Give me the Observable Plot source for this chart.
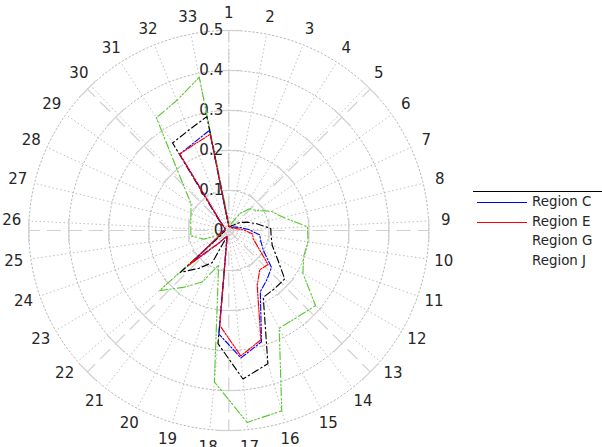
<!DOCTYPE html>
<html><head><meta charset="utf-8">
<script src="https://cdn.jsdelivr.net/npm/d3@7"></script>
<script src="https://cdn.jsdelivr.net/npm/@observablehq/plot@0.6"></script>
<style>
body{margin:0;background:#fff;font-family:"DejaVu Sans",sans-serif;}
#wrap{position:relative;width:602px;height:447px;overflow:hidden;}
#legend{position:absolute;left:0;top:0;width:602px;height:447px;pointer-events:none;}
.lg-border{position:absolute;left:473px;top:191px;width:129px;height:0;border-top:1.3px solid #000;}
.lg-line{position:absolute;left:477px;width:50px;height:0;border-top:1.5px solid;}
.lg-text{position:absolute;left:532px;font-size:13.4px;color:#262626;line-height:16px;white-space:nowrap;}
</style></head><body><div id="wrap"></div>
<script>
// ---- data ----
const directionLabels = ["1","2","3","4","5","6","7","8","9","10","11","12","13","14","15","16","17","18","19","20","21","22","23","24","25","26","27","28","29","30","31","32","33"];
const radialTicks = [0, 0.1, 0.2, 0.3, 0.4, 0.5];
const seriesNames = ["Region C", "Region E", "Region G", "Region J"];
const regionC = [0.01,0.01,0.01,0.01,0.01,0.015,0.02,0.03,0.05,0.078,0.085,0.10,0.141,0.155,0.172,0.29,0.32,0.26,0.015,0.02,0.04,0.12,0.03,0.02,0.015,0.01,0.01,0.01,0.015,0.03,0.227,0.236,0.255];
const regionE = [0.01,0.01,0.01,0.01,0.01,0.01,0.015,0.02,0.037,0.06,0.065,0.085,0.13,0.125,0.155,0.285,0.315,0.238,0.015,0.02,0.04,0.135,0.03,0.02,0.015,0.01,0.01,0.01,0.015,0.03,0.227,0.232,0.245];
const regionG = [0.02,0.01,0.02,0.05,0.075,0.086,0.116,0.14,0.197,0.2,0.198,0.214,0.287,0.276,0.275,0.47,0.482,0.38,0.09,0.145,0.18,0.23,0.02,0.066,0.096,0.095,0.098,0.104,0.116,0.17,0.335,0.35,0.39];
const regionJ = [0.01,0.01,0.01,0.015,0.02,0.035,0.05,0.072,0.105,0.107,0.115,0.14,0.185,0.185,0.188,0.347,0.373,0.284,0.015,0.09,0.12,0.16,0.02,0.015,0.01,0.01,0.01,0.01,0.015,0.035,0.26,0.27,0.29];
const seriesColors = ["#0000ff", "#ff0000", "#5ac834", "#000000"];
const seriesDash = ["1.5,2,6,2", "1.5,1.5,1.5,1.5,6,1.5", "1.5,2,1.5,2,8,3", "7,3,1.5,3"];

// ---- geometry helpers ----
const N = directionLabels.length;
const ang = i => i * 2 * Math.PI / N;          // clockwise from top
const px = (r, a) => r * Math.sin(a);
const py = (r, a) => r * Math.cos(a);
const rMax = radialTicks[radialTicks.length - 1];

const cx = 228.3, cy = 230, scalePx = 400; // layout: centre and pixels per unit
const W = 602, H = 447;

const rings = radialTicks.slice(1).flatMap(r => d3.range(0, 361, 2).map(d => ({r, x: px(r, d * Math.PI / 180), y: py(r, d * Math.PI / 180)})));
const spokes = directionLabels.map((l, i) => ({a: ang(i)}));
const bigAngles = d3.range(0, 360, 45).map(d => d * Math.PI / 180);
const crossTicks = bigAngles.flatMap(a => radialTicks.slice(1).map(r => {
  const h = 0.03;
  return {x1: px(r, a) + h * Math.cos(a), y1: py(r, a) - h * Math.sin(a),
          x2: px(r, a) - h * Math.cos(a), y2: py(r, a) + h * Math.sin(a)};
}));

const allSeries = [regionC, regionE, regionG, regionJ];
function rowsFor(vals, name) {
  return d3.range(N + 1).map(k => {
    const i = k % N;
    return {name, x: px(vals[i], ang(i)), y: py(vals[i], ang(i))};
  });
}
const drawOrder = [2, 3, 0, 1];

const chart = Plot.plot({
  width: W, height: H,
  marginTop: 0, marginRight: 0, marginBottom: 0, marginLeft: 0,
  x: {domain: [-cx / scalePx, (W - cx) / scalePx], axis: null},
  y: {domain: [-(H - cy) / scalePx, cy / scalePx], axis: null},
  style: {fontFamily: "DejaVu Sans", background: "#fff"},
  marks: [
    Plot.line(rings, {x: "x", y: "y", z: "r", stroke: "#b8b8b8", strokeWidth: 1, strokeDasharray: "1.5,2.5"}),
    Plot.link(spokes, {x1: 0, y1: 0, x2: d => px(rMax, d.a), y2: d => py(rMax, d.a), stroke: "#c0c0c0", strokeWidth: 1, strokeDasharray: "1.5,2.5"}),
    Plot.link(bigAngles, {x1: 0, y1: 0, x2: a => px(rMax, a), y2: a => py(rMax, a), stroke: "#d0d0d0", strokeWidth: 1.2, strokeDasharray: "14,7"}),
    Plot.link(crossTicks, {x1: "x1", y1: "y1", x2: "x2", y2: "y2", stroke: "#d0d0d0", strokeWidth: 1.2}),
    Plot.text(directionLabels, {x: (d, i) => px(0.543, ang(i)), y: (d, i) => py(0.543, ang(i)), text: d => d, fontSize: 15, fill: "#262626"}),
    Plot.text(radialTicks, {x: -0.014, y: d => d, text: d => String(d), textAnchor: "end", fontSize: 15, fill: "#262626"}),
    ...drawOrder.map(s => Plot.line(rowsFor(allSeries[s], seriesNames[s]), {x: "x", y: "y", stroke: seriesColors[s], strokeWidth: 1.15, strokeDasharray: seriesDash[s]}))
  ]
});
const wrap = document.getElementById("wrap");
wrap.appendChild(chart);

// legend overlay
const lg = document.createElement("div");
lg.id = "legend";
let html = '<div class="lg-border"></div>';
const rowTop = [202, 221.5, 241, 260.5];
seriesNames.forEach((n, i) => {
  if (i < 2) html += `<div class="lg-line" style="top:${rowTop[i]}px;border-color:${seriesColors[i]}"></div>`;
  html += `<div class="lg-text" style="top:${rowTop[i] - 8}px">${n}</div>`;
});
lg.innerHTML = html;
wrap.appendChild(lg);
</script>
</body></html>
